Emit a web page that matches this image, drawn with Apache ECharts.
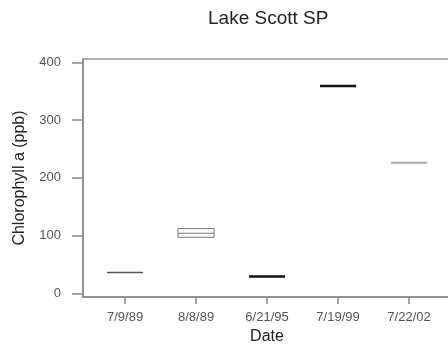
<!DOCTYPE html>
<html>
<head>
<meta charset="utf-8">
<script src="https://cdn.jsdelivr.net/npm/echarts@6/dist/echarts.min.js"></script>
<style>html,body{margin:0;padding:0;background:#fff;}#c{width:448px;height:350px;}</style>
</head>
<body>
<div id="c"></div>
<script>
var categories = ['7/9/89', '8/8/89', '6/21/95', '7/19/99', '7/22/02'];
var lowValues = [36, 97, 29, 359, 226];
var q1Values = [36, 97, 29, 359, 226];
var medianValues = [36, 104, 29, 359, 226];
var q3Values = [36, 112, 29, 359, 226];
var highValues = [36, 112, 29, 359, 226];
var yTicks = [0, 100, 200, 300, 400];
var xTicks = [1, 2, 3, 4, 5];

var lineStyles = [
  {stroke: '#555', lineWidth: 1.5},
  {stroke: '#777', lineWidth: 1},
  {stroke: '#111', lineWidth: 2.5},
  {stroke: '#111', lineWidth: 2.5},
  {stroke: '#aaa', lineWidth: 2}
];

var seriesData = categories.map(function (c, i) {
  return [i + 1, lowValues[i], q1Values[i], medianValues[i], q3Values[i], highValues[i]];
});

var chart = echarts.init(document.getElementById('c'), null, {renderer: 'canvas'});
chart.setOption({
  animation: false,
  backgroundColor: '#fff',
  title: {
    text: 'Lake Scott SP',
    left: 203,
    top: 4,
    textStyle: {fontFamily: 'Liberation Sans', fontSize: 19, fontWeight: 'normal', color: '#222'}
  },
  grid: {
    left: 83, top: 59, width: 384, height: 238,
    outerBoundsMode: 'none',
    containLabel: false,
    show: true, borderColor: '#9a9a9a', borderWidth: 1.5, backgroundColor: 'transparent'
  },
  xAxis: {
    type: 'value',
    min: 0.408, max: 5.816,
    name: 'Date',
    nameLocation: 'middle',
    nameGap: 29,
    nameTextStyle: {fontFamily: 'Liberation Sans', fontSize: 16, color: '#222', padding: [0, 16, 0, 0]},
    splitLine: {show: false},
    axisLine: {show: true, onZero: false, lineStyle: {color: '#888', width: 1.5}},
    axisTick: {show: true, length: 7, customValues: xTicks, lineStyle: {color: '#888', width: 1.5}},
    axisLabel: {
      customValues: xTicks,
      margin: 14,
      fontFamily: 'Liberation Sans', fontSize: 13, color: '#555',
      formatter: function (v) { return categories[Math.round(v) - 1] || ''; }
    }
  },
  yAxis: {
    type: 'value',
    min: -6.4, max: 405.7,
    name: 'Chlorophyll a (ppb)',
    nameLocation: 'middle',
    nameGap: 55,
    nameTextStyle: {fontFamily: 'Liberation Sans', fontSize: 16, color: '#222'},
    splitLine: {show: false},
    axisLine: {show: true, onZero: false, lineStyle: {color: '#888', width: 1.5}},
    axisTick: {show: true, length: 11, customValues: yTicks, lineStyle: {color: '#888', width: 1.5}},
    axisLabel: {
      customValues: yTicks,
      margin: 22,
      fontFamily: 'Liberation Sans', fontSize: 13, color: '#555'
    }
  },
  series: [{
    type: 'custom',
    data: seriesData,
    encode: {x: 0, y: [1, 2, 3, 4, 5]},
    renderItem: function (params, api) {
      var x = api.value(0);
      var idx = params.dataIndex;
      var half = api.size([0.254, 0])[0];
      var pLow = api.coord([x, api.value(1)]);
      var pQ1 = api.coord([x, api.value(2)]);
      var pMed = api.coord([x, api.value(3)]);
      var pQ3 = api.coord([x, api.value(4)]);
      var pHigh = api.coord([x, api.value(5)]);
      var st = lineStyles[idx];
      var style = {stroke: st.stroke, lineWidth: st.lineWidth, fill: null};
      var children = [];
      if (Math.abs(pQ1[1] - pQ3[1]) > 0.5) {
        children.push({type: 'rect', shape: {x: pQ1[0] - half, y: pQ3[1], width: half * 2, height: pQ1[1] - pQ3[1]}, style: style});
      }
      children.push({type: 'line', shape: {x1: pMed[0] - half, y1: pMed[1], x2: pMed[0] + half, y2: pMed[1]}, style: style});
      if (Math.abs(pHigh[1] - pQ3[1]) > 0.5) {
        children.push({type: 'line', shape: {x1: pQ3[0], y1: pQ3[1], x2: pHigh[0], y2: pHigh[1]}, style: style});
      }
      if (Math.abs(pLow[1] - pQ1[1]) > 0.5) {
        children.push({type: 'line', shape: {x1: pQ1[0], y1: pQ1[1], x2: pLow[0], y2: pLow[1]}, style: style});
      }
      return {type: 'group', children: children};
    }
  }]
});
</script>
</body>
</html>
